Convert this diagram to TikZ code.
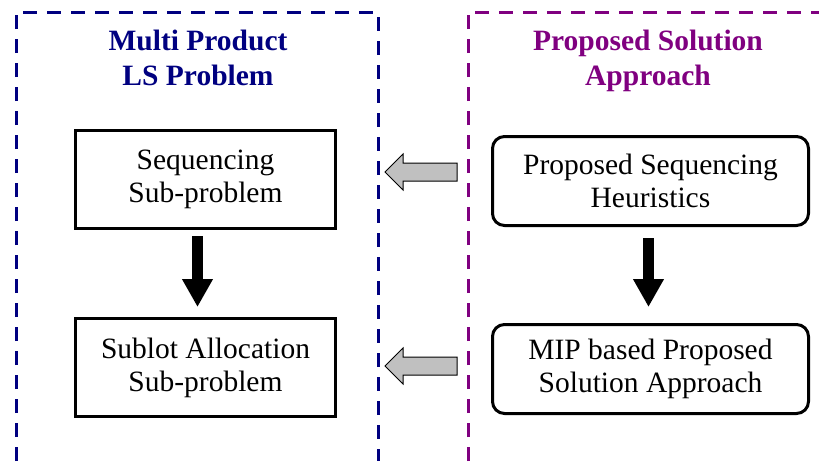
\documentclass[tikz,border=0pt]{standalone}
\usepackage{fontspec}
\setmainfont{Liberation Serif}
\usetikzlibrary{arrows.meta}
\definecolor{navyc}{RGB}{0,0,128}
\definecolor{purplec}{RGB}{128,0,128}
\definecolor{arrgray}{RGB}{192,192,192}
\tikzset{
  frameline/.style={line width=3pt, dash pattern=on 14pt off 10pt},
  plainbox/.style={draw=black, line width=3pt, minimum width=260pt, minimum height=98pt, inner sep=0pt, align=center, font=\fontsize{29.5}{33}\selectfont},
  roundbox/.style={plainbox, rounded corners=12pt, minimum width=316pt, minimum height=89pt},
  titletext/.style={inner sep=0pt, align=center, font=\fontsize{29.5}{35}\selectfont\bfseries},
  downarrow/.style={line width=11pt, -{Triangle[width=29pt,length=28pt]}},
  grayarrow/.style={draw=black, line width=1pt, fill=arrgray, line join=miter}
}
\begin{document}
\begin{tikzpicture}[x=1pt,y=-1pt]
\useasboundingbox (0,0) rectangle (819,461);
% frames
\draw[frameline, navyc] (16,461) -- (16,12) -- (378,12) -- (378,461);
\draw[frameline, purplec] (468,461) -- (468,12) -- (819,12);
% titles
\node[titletext, text=navyc] (t1) at (198,57.5) {Multi Product\\LS Problem};
\node[titletext, text=purplec] (t2) at (648,60.5) {Proposed Solution\\Approach};
% boxes
\node[plainbox] (seq) at (205.5,179.5) {Sequencing\\Sub-problem};
\node[plainbox] (sub) at (205.5,367.5) {Sublot Allocation\\Sub-problem};
\node[roundbox] (heur) at (650.5,181) {Proposed Sequencing\\Heuristics};
\node[roundbox] (mip) at (650.5,369) {MIP based Proposed\\Solution Approach};
% down arrows
\draw[downarrow] ([xshift=-8pt,yshift=-6pt]seq.south) -- ([xshift=-8pt,yshift=10pt]sub.north);
\draw[downarrow] ([xshift=-2pt,yshift=-11pt]heur.south) -- ([xshift=-2pt,yshift=16pt]mip.north);
% gray block arrows
\coordinate (g1) at (385,172);
\coordinate (g2) at (385,366);
\draw[grayarrow] (g1) -- ++(18,-18) -- ++(0,9) -- ++(54,0) -- ++(0,18) -- ++(-54,0) -- ++(0,9) -- cycle;
\draw[grayarrow] (g2) -- ++(18,-18) -- ++(0,9) -- ++(54,0) -- ++(0,18) -- ++(-54,0) -- ++(0,9) -- cycle;
\end{tikzpicture}
\end{document}
